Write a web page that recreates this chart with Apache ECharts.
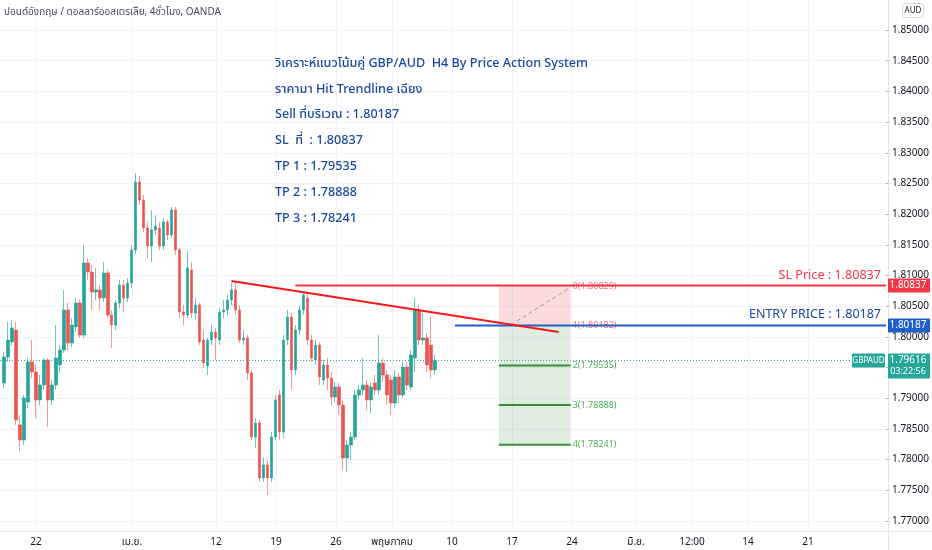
<!DOCTYPE html>
<html><head><meta charset="utf-8">
<script src="https://cdn.jsdelivr.net/npm/echarts@6/dist/echarts.min.js"></script>
<style>html,body{margin:0;padding:0;background:#fff}#c{width:932px;height:550px}</style>
</head><body><div id="c"></div>
<script>
// ---- data ----
const opens = [1.79249,1.79672,1.79917,1.80112,1.78565,1.78320,1.78939,1.79591,1.79428,1.78972,1.79216,1.79624,1.78972,1.79216,1.79542,1.79786,1.80438,1.79900,1.80161,1.80552,1.80031,1.81204,1.81057,1.80731,1.80764,1.80634,1.81041,1.80357,1.80194,1.80552,1.80845,1.80634,1.80878,1.81416,1.82524,1.82230,1.81774,1.81481,1.81741,1.81774,1.81481,1.81872,1.81660,1.82067,1.81416,1.80406,1.80357,1.81090,1.80389,1.80520,1.79949,1.79526,1.79949,1.80080,1.79949,1.80406,1.80438,1.80601,1.80764,1.80438,1.79949,1.79982,1.79412,1.78369,1.78597,1.77701,1.77913,1.77701,1.78369,1.79053,1.78450,1.79949,1.80324,1.79461,1.80112,1.80438,1.80634,1.79949,1.79624,1.79868,1.79298,1.79542,1.79330,1.79021,1.79184,1.78890,1.78027,1.78239,1.78369,1.79053,1.79135,1.79216,1.78972,1.79249,1.79135,1.79575,1.79379,1.79298,1.78923,1.79347,1.79053,1.79509,1.79184,1.79656,1.80438,1.79949,1.79982,1.79868,1.79461];
const closes = [1.79672,1.79949,1.80145,1.78646,1.78320,1.79004,1.79591,1.79428,1.78972,1.79216,1.79624,1.78972,1.79216,1.79656,1.79786,1.80438,1.79900,1.80194,1.80552,1.80031,1.81204,1.81057,1.80731,1.80764,1.80634,1.81041,1.80357,1.80194,1.80552,1.80845,1.80634,1.80878,1.81416,1.82524,1.82230,1.81774,1.81481,1.81741,1.81807,1.81481,1.81872,1.81660,1.82067,1.81416,1.80406,1.80357,1.81122,1.80389,1.80520,1.79917,1.79575,1.79949,1.80080,1.79982,1.80406,1.80438,1.80601,1.80764,1.80438,1.79949,1.79982,1.79412,1.78369,1.78597,1.77701,1.77913,1.77701,1.78369,1.78972,1.78450,1.79949,1.80324,1.79461,1.80112,1.80438,1.80682,1.79949,1.79656,1.79868,1.79347,1.79542,1.79330,1.79021,1.79184,1.78890,1.78027,1.78239,1.78369,1.79053,1.79135,1.79216,1.78972,1.79184,1.79135,1.79575,1.79379,1.79053,1.78923,1.79347,1.79053,1.79509,1.79216,1.79705,1.80438,1.79949,1.79982,1.79542,1.79461,1.79616];
const lows = [1.79167,1.79591,1.79852,1.78565,1.78141,1.78239,1.78842,1.79330,1.78679,1.78890,1.79135,1.78532,1.78890,1.79135,1.79412,1.79738,1.79786,1.79835,1.80080,1.79982,1.79982,1.80927,1.80438,1.80601,1.80438,1.80568,1.80308,1.79819,1.80112,1.80471,1.80406,1.80568,1.80797,1.81350,1.82149,1.81709,1.81285,1.81220,1.81660,1.81416,1.81416,1.81579,1.81611,1.81334,1.80308,1.80194,1.80308,1.80308,1.80275,1.79868,1.79493,1.79379,1.79868,1.79624,1.79868,1.80308,1.80357,1.80520,1.80357,1.79900,1.79868,1.79298,1.78320,1.78190,1.77636,1.77636,1.77424,1.77636,1.78320,1.78320,1.78353,1.79868,1.79135,1.79379,1.80031,1.80357,1.79868,1.79591,1.79542,1.79216,1.79216,1.79135,1.78890,1.78939,1.78727,1.77831,1.77799,1.77994,1.78320,1.78972,1.79053,1.78809,1.78760,1.79053,1.79053,1.79265,1.78890,1.78727,1.78842,1.78923,1.79004,1.79135,1.79135,1.79428,1.79868,1.79868,1.79428,1.79330,1.79379];
const highs = [1.79754,1.80243,1.80275,1.80243,1.78727,1.79053,1.79656,1.79949,1.79542,1.79379,1.79656,1.79656,1.79298,1.80194,1.79868,1.80764,1.80552,1.80308,1.80634,1.80601,1.81497,1.81285,1.81171,1.81122,1.80845,1.81220,1.81090,1.80438,1.80601,1.80927,1.80927,1.80959,1.81497,1.82670,1.82621,1.82312,1.81872,1.82067,1.81986,1.81872,1.81937,1.81904,1.82116,1.82116,1.81448,1.80520,1.81416,1.81220,1.80634,1.80552,1.80112,1.79982,1.80194,1.80145,1.80471,1.80601,1.80682,1.80878,1.80878,1.80520,1.80112,1.80031,1.79461,1.78679,1.78646,1.78027,1.77994,1.78450,1.79053,1.79135,1.80031,1.80438,1.80389,1.80194,1.80520,1.80731,1.80731,1.80031,1.79949,1.79917,1.79624,1.79656,1.79428,1.79265,1.79249,1.78972,1.78320,1.78450,1.79135,1.79216,1.79656,1.79298,1.79249,1.79379,1.80031,1.79656,1.79461,1.79379,1.79461,1.79428,1.79591,1.79591,1.79786,1.80634,1.80520,1.80389,1.80063,1.80324,1.79705];

const barCount = 223;          // bar slots on the time axis (incl. future space)
const firstBar = 1;            // slot of the first candle
const tickBars = [9, 33, 54, 69, 84, 98, 113, 128, 143, 159, 173, 187, 202];
const tickLabels = ['22', 'เม.ย.', '12', '19', '26', 'พฤษภาคม', '10', '17', '24', 'มิ.ย.', '12:00', '14', '21'];

const slPrice = 1.80837;
const entryPrice = 1.80187;
const lastPrice = 1.79616;
const fibLevels = [1.80829, 1.80182, 1.79535, 1.78888, 1.78241];
const trendBars = [58, 140];
const trendPrices = [1.80911, 1.80080];
const slStartBar = 74;
const entryStartBar = 114;
const zoneBars = [125, 143];
const diagBars = [128, 143];
const diagPrices = [1.80195, 1.80810];
const lastLineEndBar = 213;

const noteLines = [
  'วิเคราะห์แนวโน้มคู่ GBP/AUD  H4 By Price Action System',
  'ราคามา Hit Trendline เฉียง',
  'Sell ที่บริเวณ : 1.80187',
  'SL  ที่  : 1.80837',
  'TP 1 : 1.79535',
  'TP 2 : 1.78888',
  'TP 3 : 1.78241'
];
const titleText = 'ปอนด์อังกฤษ / ดอลลาร์ออสเตรเลีย, 4ชั่วโมง, OANDA';

// ---- chart ----
const FONT = '"Noto Sans", "Noto Sans Thai", "DejaVu Sans", sans-serif';
const cats = Array.from({length: barCount}, (_, i) => String(i));
const labelAt = {};
tickBars.forEach((b, k) => { labelAt[b] = tickLabels[k]; });
const candles = cats.map((_, i) => {
  const j = i - firstBar;
  return (j >= 0 && j < opens.length) ? [opens[j], closes[j], lows[j], highs[j]] : '-';
});
const lastBar = barCount - 1;

function seg(bars, prices, lineStyle, extra) {
  return Object.assign({
    type: 'line', xAxisIndex: 1, yAxisIndex: 1, symbol: 'none', silent: true,
    data: [[bars[0], prices[0]], [bars[1], prices[1]]],
    lineStyle: lineStyle, z: 4
  }, extra || {});
}

const fibColors = ['#f0707a', '#f0707a', '#4caf50', '#4caf50', '#4caf50'];
const fibSeries = fibLevels.map((v, k) => seg(zoneBars, [v, v],
  {color: '#388e3c', width: k >= 2 ? 2 : 0, opacity: k >= 2 ? 1 : 0},
  {endLabel: {show: true, formatter: k + '(' + v.toFixed(5) + ')', color: fibColors[k], fontSize: 9, fontFamily: FONT, distance: 2}, z: 3}));

const option = {
  animation: false,
  backgroundColor: '#ffffff',
  grid: [
    {left: 0, right: 44, top: 0, bottom: 19},
    {left: 0, right: 44, top: 30, bottom: 29}
  ],
  xAxis: [
    {gridIndex: 0, type: 'category', data: cats, boundaryGap: false,
     axisLine: {show: false}, axisTick: {show: false},
     axisLabel: {interval: (i) => labelAt[i] !== undefined, formatter: (v) => labelAt[v] || '',
                 color: '#131722', fontSize: 10, fontFamily: FONT, margin: 6},
     splitLine: {show: true, interval: (i) => labelAt[i] !== undefined, lineStyle: {color: '#f0f3fa', width: 1}}},
    {gridIndex: 1, type: 'category', data: cats, boundaryGap: false, show: false}
  ],
  yAxis: [
    {gridIndex: 0, type: 'value', min: 0, max: 1, show: false},
    {gridIndex: 1, type: 'value', position: 'right', min: 1.77, max: 1.85, interval: 0.005,
     axisLine: {show: false},
     axisTick: {show: true, length: 4, lineStyle: {color: '#b2b5be'}},
     axisLabel: {formatter: (v) => v.toFixed(5), color: '#131722', fontSize: 10, fontFamily: FONT, margin: 6},
     splitLine: {show: true, lineStyle: {color: '#f0f3fa', width: 1}}}
  ],
  series: [
    {type: 'candlestick', xAxisIndex: 1, yAxisIndex: 1, data: candles, barWidth: 3, z: 2,
     itemStyle: {color: '#26a69a', color0: '#ef5350', borderColor: 'rgba(38,166,154,0.65)', borderColor0: 'rgba(239,83,80,0.6)', borderWidth: 1},
     markArea: {silent: true, data: [
       [{coord: [zoneBars[0], fibLevels[1]], itemStyle: {color: 'rgba(242,54,69,0.18)'}}, {coord: [zoneBars[1], fibLevels[0]]}],
       [{coord: [zoneBars[0], fibLevels[4]], itemStyle: {color: 'rgba(76,140,80,0.17)'}}, {coord: [zoneBars[1], fibLevels[1]]}]
     ]}},
    seg([0, lastLineEndBar], [lastPrice, lastPrice], {color: '#26a69a', width: 1, type: [1, 2]}),
    ...fibSeries,
    seg(diagBars, diagPrices, {color: '#9e9e9e', width: 1, type: [4, 3]}),
    seg([slStartBar, lastBar], [slPrice, slPrice], {color: '#f23645', width: 2}, {z: 5}),
    seg([entryStartBar, lastBar], [entryPrice, entryPrice], {color: '#1e5fc8', width: 2}, {z: 5}),
    seg(trendBars, trendPrices, {color: '#f51a1a', width: 2}, {z: 6})
  ]
};

const chart = echarts.init(document.getElementById('c'), null, {renderer: 'canvas'});
chart.setOption(option);

const py = (v) => chart.convertToPixel({yAxisIndex: 1}, v);
const axisX = 888;
const tagW = 42;
const G = [];
// frame lines
G.push({type: 'line', shape: {x1: axisX + 0.5, y1: 0, x2: axisX + 0.5, y2: 550}, style: {stroke: '#e0e3eb', lineWidth: 1}, z: 20});
G.push({type: 'line', shape: {x1: 0, y1: 531.5, x2: 932, y2: 531.5}, style: {stroke: '#e0e3eb', lineWidth: 1}, z: 20});
// title
G.push({type: 'text', x: 4, y: 12, style: {text: titleText, fill: '#4a4e5a', fontSize: 10, fontFamily: FONT, verticalAlign: 'middle'}, z: 20});
// currency box
G.push({type: 'rect', shape: {x: 902.5, y: 3.5, width: 21, height: 14, r: 3}, style: {fill: '#fff', stroke: '#d1d4dc', lineWidth: 1}, z: 20});
G.push({type: 'text', x: 913, y: 10.5, style: {text: 'AUD', fill: '#131722', fontSize: 8, fontFamily: FONT, align: 'center', verticalAlign: 'middle'}, z: 21});
// notes
const noteY = [63, 89, 114, 140, 166, 192, 218];
noteLines.forEach((t, k) => {
  G.push({type: 'text', x: 275, y: noteY[k], style: {text: t, fill: '#1a4aa0', fontSize: 12.6, fontWeight: 500, fontFamily: FONT, verticalAlign: 'middle'}, z: 20});
});
// line captions
const ySL = py(slPrice), yEn = py(entryPrice), yLast = py(lastPrice);
G.push({type: 'text', x: 881, y: ySL - 10, style: {text: 'SL Price : ' + slPrice.toFixed(5), fill: '#f23645', fontSize: 12.6, fontFamily: FONT, align: 'right', verticalAlign: 'middle'}, z: 20});
G.push({type: 'text', x: 881, y: yEn - 11, style: {text: 'ENTRY PRICE : ' + entryPrice.toFixed(5), fill: '#1a4aa0', fontSize: 12.5, fontFamily: FONT, align: 'right', verticalAlign: 'middle'}, z: 20});
// axis tags
function tag(y, txt, color) {
  G.push({type: 'rect', shape: {x: axisX, y: y - 7, width: tagW, height: 14, r: 1}, style: {fill: color}, z: 22});
  G.push({type: 'text', x: axisX + 20, y: y, style: {text: txt, fill: '#ffffff', fontSize: 10, fontFamily: FONT, align: 'center', verticalAlign: 'middle'}, z: 23});
}
tag(ySL, slPrice.toFixed(5), '#f23645');
tag(yEn, entryPrice.toFixed(5), '#1e5fc8');
G.push({type: 'rect', shape: {x: axisX, y: yLast - 7, width: tagW, height: 25, r: 1}, style: {fill: '#26a69a'}, z: 22});
G.push({type: 'text', x: axisX + 20, y: yLast, style: {text: lastPrice.toFixed(5), fill: '#ffffff', fontSize: 10, fontFamily: FONT, align: 'center', verticalAlign: 'middle'}, z: 23});
G.push({type: 'text', x: axisX + 20, y: yLast + 11, style: {text: '03:22:56', fill: '#ffffff', fontSize: 9, fontFamily: FONT, align: 'center', verticalAlign: 'middle'}, z: 23});
G.push({type: 'rect', shape: {x: 852, y: yLast - 7, width: 33, height: 14, r: 1}, style: {fill: '#26a69a'}, z: 22});
G.push({type: 'text', x: 868.5, y: yLast, style: {text: 'GBPAUD', fill: '#ffffff', fontSize: 8, fontFamily: FONT, align: 'center', verticalAlign: 'middle'}, z: 23});

chart.setOption({graphic: {elements: G}});
</script>
</body></html>
